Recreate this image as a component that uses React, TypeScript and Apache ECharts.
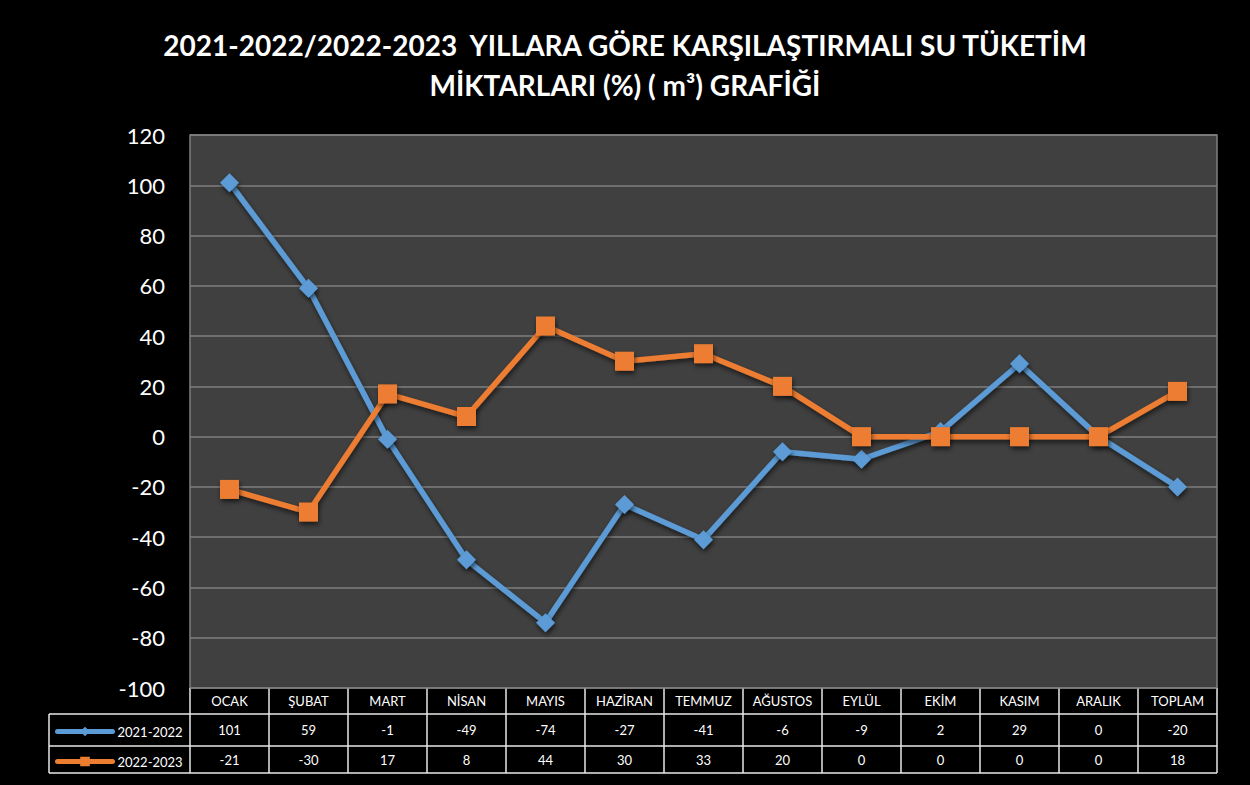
import React, { useEffect, useRef } from "react";
import * as echarts from "echarts";

const categories = ["OCAK", "ŞUBAT", "MART", "NİSAN", "MAYIS", "HAZİRAN", "TEMMUZ", "AĞUSTOS", "EYLÜL", "EKİM", "KASIM", "ARALIK", "TOPLAM"];
const series2122 = [101, 59, -1, -49, -74, -27, -41, -6, -9, 2, 29, 0, -20];
const series2223 = [-21, -30, 17, 8, 44, 30, 33, 20, 0, 0, 0, 0, 18];
const seriesNames = ["2021-2022", "2022-2023"];
const yMin = -100;
const yMax = 120;
const yStep = 20;
const titleLines = ["2021-2022/2022-2023  YILLARA GÖRE KARŞILAŞTIRMALI SU TÜKETİM", "MİKTARLARI (%) ( m³) GRAFİĞİ"];

const W = 1250;
const H = 785;
const GL = 190, GR = 1217, GT = 135, GB = 688;
const ROW1 = 714, ROW2 = 746, ROW3 = 773;
const TABLE_LEFT = 49;
const FONT = "Lato, 'Open Sans', sans-serif";

export default function App() {
  const ref = useRef<HTMLDivElement>(null);
  useEffect(() => {
    if (!ref.current) return;
    const chart = echarts.init(ref.current, null, { renderer: "svg" });
    const n = categories.length;
    const cw = (GR - GL) / n;
    const lines: any[] = [];
    const lineStyle = { stroke: "#e8e8e8", lineWidth: 1.5 };
    lines.push({ type: "line", shape: { x1: TABLE_LEFT, y1: ROW1, x2: GR, y2: ROW1 }, style: lineStyle });
    lines.push({ type: "line", shape: { x1: TABLE_LEFT, y1: ROW2, x2: GR, y2: ROW2 }, style: lineStyle });
    lines.push({ type: "line", shape: { x1: TABLE_LEFT, y1: ROW3, x2: GR, y2: ROW3 }, style: lineStyle });
    lines.push({ type: "line", shape: { x1: TABLE_LEFT, y1: ROW1, x2: TABLE_LEFT, y2: ROW3 }, style: lineStyle });
    for (let i = 0; i <= n; i++) {
      const x = GL + i * cw;
      lines.push({ type: "line", shape: { x1: x, y1: GB, x2: x, y2: ROW3 }, style: lineStyle });
    }
    const shadow = { shadowBlur: 5, shadowColor: "rgba(0,0,0,0.6)", shadowOffsetY: 3, shadowOffsetX: 1 };
    chart.setOption({
      animation: false,
      backgroundColor: "#000000",
      title: {
        text: titleLines.join("\n"),
        left: "center",
        top: 20,
        textStyle: { color: "#ffffff", fontSize: 28, fontWeight: "bold", fontFamily: FONT, lineHeight: 40 },
      },
      legend: {
        orient: "vertical",
        left: 50,
        top: 720,
        itemWidth: 55,
        itemHeight: 12,
        itemGap: 17,
        data: seriesNames,
        lineStyle: { width: 5, cap: "round" },
        textStyle: { color: "#ffffff", fontSize: 13, fontFamily: FONT },
      },
      grid: { left: GL, right: W - GR, top: GT, bottom: H - GB, show: true, backgroundColor: "#404040", borderColor: "#7f7f7f", borderWidth: 1.5 },
      xAxis: {
        type: "category",
        data: categories,
        boundaryGap: true,
        axisLine: { show: false },
        axisTick: { show: false },
        splitLine: { show: false },
        axisLabel: {
          interval: 0,
          margin: 0,
          verticalAlign: "top",
          fontFamily: FONT,
          formatter: (v: string, i: number) => `{h|${v}}\n{a|${series2122[i]}}\n{b|${series2223[i]}}`,
          rich: {
            h: { color: "#ffffff", fontSize: 13, lineHeight: 26, fontFamily: FONT },
            a: { color: "#ffffff", fontSize: 13, lineHeight: 32, fontFamily: FONT },
            b: { color: "#ffffff", fontSize: 13, lineHeight: 27, fontFamily: FONT },
          },
        },
      },
      yAxis: {
        type: "value",
        min: yMin,
        max: yMax,
        interval: yStep,
        axisLine: { show: false },
        axisTick: { show: false },
        axisLabel: { color: "#ffffff", fontSize: 22, margin: 25, fontFamily: FONT },
        splitLine: { lineStyle: { color: "#7f7f7f", width: 1.5 } },
      },
      graphic: lines,
      series: [
        {
          name: seriesNames[0],
          type: "line",
          data: series2122,
          symbol: "diamond",
          symbolSize: 19,
          lineStyle: { color: "#5b9bd5", width: 5.5, ...shadow },
          itemStyle: { color: "#5b9bd5", ...shadow },
          z: 3,
        },
        {
          name: seriesNames[1],
          type: "line",
          data: series2223,
          symbol: "rect",
          symbolSize: 19,
          lineStyle: { color: "#ed7d31", width: 5.5, ...shadow },
          itemStyle: { color: "#ed7d31", ...shadow },
          z: 4,
        },
      ],
    });
    return () => chart.dispose();
  }, []);
  return <div ref={ref} style={{ position: "fixed", left: 0, top: 0, width: W, height: H }} />;
}
